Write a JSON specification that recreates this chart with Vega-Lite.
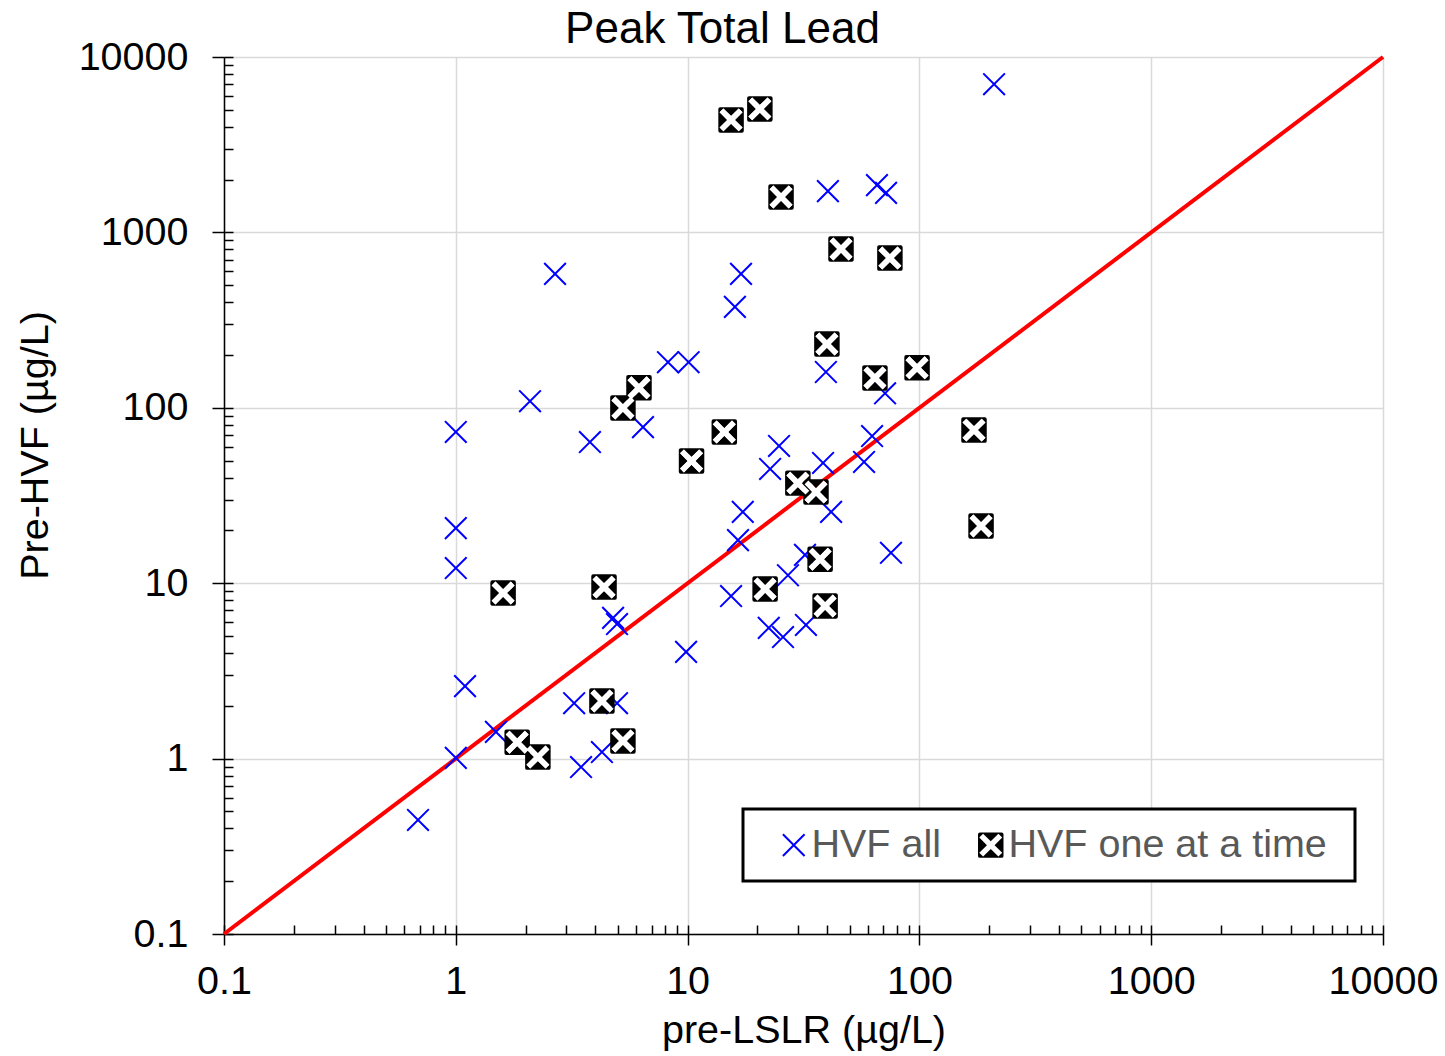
{
  "$schema": "https://vega.github.io/schema/vega-lite/v6.json",
  "width": 1159,
  "height": 877,
  "autosize": {"type": "none"},
  "padding": {"left": 224, "top": 57, "right": 62, "bottom": 122},
  "title": {"text": "Peak Total Lead", "fontSize": 44, "font": "Liberation Sans", "fontWeight": "normal", "color": "black", "anchor": "middle", "frame": "group", "dx": -81, "offset": -15},
  "config": {
    "font": "Liberation Sans",
    "view": {"stroke": null},
    "legend": {
      "orient": "none", "legendX": 519, "legendY": 752, "direction": "horizontal",
      "titleOrient": "right", "titleFontSize": 1, "titlePadding": 12,
      "padding": 16, "strokeColor": "black", "strokeWidth": 3, "fillColor": "white",
      "labelFontSize": 39.5, "labelColor": "#595959", "labelOffset": -2, "symbolOffset": 15, "labelFont": "Liberation Sans",
      "columnPadding": 15, "symbolSize": 650, "symbolStrokeWidth": 2, "symbolOpacity": 1, "labelLimit": 500
    }
  },
  "datasets": {
    "line": [{"lslr": 0.1, "hvf": 0.1}, {"lslr": 10000, "hvf": 10000}],
    "pts": [
      {"series": "HVF all", "lslr": 210, "hvf": 7000},
      {"series": "HVF all", "lslr": 40.3, "hvf": 1720},
      {"series": "HVF all", "lslr": 65.6, "hvf": 1860},
      {"series": "HVF all", "lslr": 71.8, "hvf": 1680},
      {"series": "HVF all", "lslr": 2.68, "hvf": 580},
      {"series": "HVF all", "lslr": 17.0, "hvf": 580},
      {"series": "HVF all", "lslr": 16.0, "hvf": 376},
      {"series": "HVF all", "lslr": 8.23, "hvf": 182},
      {"series": "HVF all", "lslr": 10.1, "hvf": 182},
      {"series": "HVF all", "lslr": 2.09, "hvf": 109},
      {"series": "HVF all", "lslr": 1.0, "hvf": 72.8},
      {"series": "HVF all", "lslr": 3.79, "hvf": 63.8},
      {"series": "HVF all", "lslr": 6.42, "hvf": 77.6},
      {"series": "HVF all", "lslr": 1.0, "hvf": 20.6},
      {"series": "HVF all", "lslr": 1.0, "hvf": 12.2},
      {"series": "HVF all", "lslr": 17.3, "hvf": 25.5},
      {"series": "HVF all", "lslr": 16.5, "hvf": 17.6},
      {"series": "HVF all", "lslr": 15.4, "hvf": 8.45},
      {"series": "HVF all", "lslr": 4.77, "hvf": 6.34},
      {"series": "HVF all", "lslr": 4.96, "hvf": 5.85},
      {"series": "HVF all", "lslr": 9.85, "hvf": 4.06},
      {"series": "HVF all", "lslr": 1.096, "hvf": 2.59},
      {"series": "HVF all", "lslr": 3.24, "hvf": 2.07},
      {"series": "HVF all", "lslr": 4.96, "hvf": 2.07},
      {"series": "HVF all", "lslr": 1.49, "hvf": 1.42},
      {"series": "HVF all", "lslr": 1.0, "hvf": 1.01},
      {"series": "HVF all", "lslr": 4.27, "hvf": 1.09},
      {"series": "HVF all", "lslr": 3.47, "hvf": 0.895},
      {"series": "HVF all", "lslr": 0.687, "hvf": 0.447},
      {"series": "HVF all", "lslr": 39.5, "hvf": 160},
      {"series": "HVF all", "lslr": 71.1, "hvf": 121},
      {"series": "HVF all", "lslr": 62.5, "hvf": 69.0},
      {"series": "HVF all", "lslr": 57.7, "hvf": 49.1},
      {"series": "HVF all", "lslr": 24.8, "hvf": 60.6},
      {"series": "HVF all", "lslr": 22.7, "hvf": 44.8},
      {"series": "HVF all", "lslr": 38.4, "hvf": 48.5},
      {"series": "HVF all", "lslr": 41.6, "hvf": 25.5},
      {"series": "HVF all", "lslr": 75.4, "hvf": 14.9},
      {"series": "HVF all", "lslr": 32.1, "hvf": 14.5},
      {"series": "HVF all", "lslr": 27.1, "hvf": 11.1},
      {"series": "HVF all", "lslr": 22.4, "hvf": 5.56},
      {"series": "HVF all", "lslr": 25.8, "hvf": 4.93},
      {"series": "HVF all", "lslr": 32.4, "hvf": 5.78},
      {"series": "HVF one at a time", "lslr": 15.4, "hvf": 4380},
      {"series": "HVF one at a time", "lslr": 20.5, "hvf": 5060},
      {"series": "HVF one at a time", "lslr": 25.3, "hvf": 1592},
      {"series": "HVF one at a time", "lslr": 45.9, "hvf": 804},
      {"series": "HVF one at a time", "lslr": 74.6, "hvf": 714},
      {"series": "HVF one at a time", "lslr": 39.9, "hvf": 231},
      {"series": "HVF one at a time", "lslr": 64.3, "hvf": 148},
      {"series": "HVF one at a time", "lslr": 97.7, "hvf": 169},
      {"series": "HVF one at a time", "lslr": 172, "hvf": 74.6},
      {"series": "HVF one at a time", "lslr": 184.5, "hvf": 21.2},
      {"series": "HVF one at a time", "lslr": 6.17, "hvf": 130},
      {"series": "HVF one at a time", "lslr": 5.26, "hvf": 99.7},
      {"series": "HVF one at a time", "lslr": 14.4, "hvf": 72.8},
      {"series": "HVF one at a time", "lslr": 10.4, "hvf": 49.8},
      {"series": "HVF one at a time", "lslr": 29.9, "hvf": 37.2},
      {"series": "HVF one at a time", "lslr": 35.8, "hvf": 33.1},
      {"series": "HVF one at a time", "lslr": 37.3, "hvf": 13.7},
      {"series": "HVF one at a time", "lslr": 21.6, "hvf": 9.27},
      {"series": "HVF one at a time", "lslr": 39.2, "hvf": 7.41},
      {"series": "HVF one at a time", "lslr": 1.60, "hvf": 8.79},
      {"series": "HVF one at a time", "lslr": 4.36, "hvf": 9.5},
      {"series": "HVF one at a time", "lslr": 4.27, "hvf": 2.13},
      {"series": "HVF one at a time", "lslr": 1.84, "hvf": 1.24},
      {"series": "HVF one at a time", "lslr": 2.26, "hvf": 1.02},
      {"series": "HVF one at a time", "lslr": 5.26, "hvf": 1.26}
    ]
  },
  "resolve": {"axis": {"x": "independent", "y": "independent"}},
  "layer": [
    {
      "data": {"name": "line"},
      "mark": {"type": "line", "color": "#ff0000", "strokeWidth": 4},
      "encoding": {
        "x": {"field": "lslr", "type": "quantitative",
          "scale": {"type": "log", "domain": [0.1, 10000], "nice": false},
          "axis": {"title": "pre-LSLR (µg/L)", "orient": "bottom", "values": [0.1, 1, 10, 100, 1000, 10000], "format": "~g",
            "labelFontSize": 39.5, "labelColor": "black", "labelBaseline": "alphabetic", "labelPadding": 48, "labelFlush": false, "labelOverlap": false,
            "tickSize": 11, "tickColor": "black", "tickWidth": 1.5, "domainColor": "black", "domainWidth": 1.5,
            "grid": true, "gridColor": "#d9d9d9", "gridWidth": 1.5,
            "titleFontSize": 39.5, "titleFontWeight": "normal", "titleColor": "black", "titleY": 96, "titleBaseline": "middle"}},
        "y": {"field": "hvf", "type": "quantitative",
          "scale": {"type": "log", "domain": [0.1, 10000], "nice": false},
          "axis": {"title": "Pre-HVF (µg/L)", "orient": "left", "values": [0.1, 1, 10, 100, 1000, 10000], "format": "~g",
            "labelFontSize": 39.5, "labelColor": "black", "labelPadding": 24, "labelFlush": false, "labelOverlap": false,
            "tickSize": 12, "tickColor": "black", "tickWidth": 1.5, "domainColor": "black", "domainWidth": 1.5,
            "grid": true, "gridColor": "#d9d9d9", "gridWidth": 1.5,
            "titleFontSize": 39.5, "titleFontWeight": "normal", "titleColor": "black",
            "titleX": -189, "titleY": 388, "titleAngle": -90, "titleBaseline": "middle", "titleAlign": "center"}}
      }
    },
    {
      "data": {"name": "pts"},
      "mark": {"type": "point", "opacity": 1, "strokeWidth": 2, "size": 650},
      "encoding": {
        "x": {"field": "lslr", "type": "quantitative",
          "axis": {"orient": "bottom", "title": null, "labels": false, "grid": false, "domain": false, "tickSize": -9, "tickColor": "black", "tickWidth": 1.5,
            "values": [0.1,0.2,0.3,0.4,0.5,0.6,0.7,0.8,0.9,1,2,3,4,5,6,7,8,9,10,20,30,40,50,60,70,80,90,100,200,300,400,500,600,700,800,900,1000,2000,3000,4000,5000,6000,7000,8000,9000,10000]}},
        "y": {"field": "hvf", "type": "quantitative",
          "axis": {"orient": "left", "title": null, "labels": false, "grid": false, "domain": false, "tickSize": -9, "tickColor": "black", "tickWidth": 1.5,
            "values": [0.1,0.2,0.3,0.4,0.5,0.6,0.7,0.8,0.9,1,2,3,4,5,6,7,8,9,10,20,30,40,50,60,70,80,90,100,200,300,400,500,600,700,800,900,1000,2000,3000,4000,5000,6000,7000,8000,9000,10000]}},
        "shape": {"field": "series", "type": "nominal",
          "scale": {"domain": ["HVF all", "HVF one at a time"],
            "range": ["M-0.85,-0.85L0.85,0.85M-0.85,0.85L0.85,-0.85",
                      "M-1,-0.85L-1,0.85Q-1,1,-0.85,1L0.85,1Q1,1,1,0.85L1,-0.85Q1,-1,0.85,-1L-0.85,-1Q-1,-1,-1,-0.85Z M0,-0.3L0.6,-0.9L0.9,-0.6L0.3,0L0.9,0.6L0.6,0.9L0,0.3L-0.6,0.9L-0.9,0.6L-0.3,0L-0.9,-0.6L-0.6,-0.9Z"]},
          "legend": {"title": "\u00a0"}},
        "fill": {"field": "series", "type": "nominal",
          "scale": {"domain": ["HVF all", "HVF one at a time"], "range": ["transparent", "black"]},
          "legend": {"title": "\u00a0"}},
        "stroke": {"field": "series", "type": "nominal",
          "scale": {"domain": ["HVF all", "HVF one at a time"], "range": ["#0000ff", "transparent"]},
          "legend": {"title": "\u00a0"}}
      }
    },
    {
      "data": {"name": "pts"},
      "transform": [{"filter": "datum.series == 'HVF one at a time'"}],
      "mark": {"type": "point", "filled": true, "fill": "white", "strokeWidth": 0, "opacity": 1, "size": 650,
        "shape": "M0,-0.3L0.6,-0.9L0.9,-0.6L0.3,0L0.9,0.6L0.6,0.9L0,0.3L-0.6,0.9L-0.9,0.6L-0.3,0L-0.9,-0.6L-0.6,-0.9Z"},
      "encoding": {
        "x": {"field": "lslr", "type": "quantitative", "axis": null},
        "y": {"field": "hvf", "type": "quantitative", "axis": null}
      }
    }
  ]
}
